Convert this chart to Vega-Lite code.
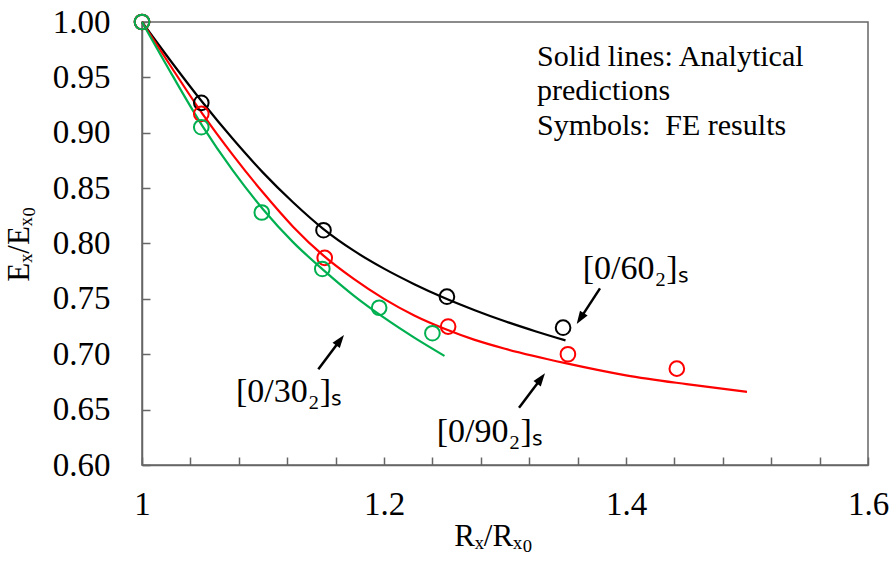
{
  "$schema": "https://vega.github.io/schema/vega-lite/v6.json",
  "width": 726,
  "height": 443,
  "autosize": "none",
  "padding": {"left": 142, "top": 22, "right": 25, "bottom": 107},
  "background": "white",
  "config": {
    "font": "Liberation Serif",
    "view": {"stroke": "#666666", "strokeWidth": 1.5},
    "axis": {"grid": false, "domainColor": "#666666", "domainWidth": 1.5, "tickColor": "#666666", "tickWidth": 1.5, "labelColor": "#000000", "titleColor": "#000000", "labelFont": "Liberation Serif", "titleFont": "Liberation Serif", "titleFontWeight": "normal"}
  },
  "datasets": {
    "curves": [
      {"series": "60", "x": 1.0, "y": 1.0},
      {"series": "60", "x": 1.025, "y": 0.963},
      {"series": "60", "x": 1.05, "y": 0.9275},
      {"series": "60", "x": 1.075, "y": 0.8945},
      {"series": "60", "x": 1.1, "y": 0.864},
      {"series": "60", "x": 1.125, "y": 0.837},
      {"series": "60", "x": 1.15, "y": 0.813},
      {"series": "60", "x": 1.175, "y": 0.7935},
      {"series": "60", "x": 1.2, "y": 0.7773},
      {"series": "60", "x": 1.225, "y": 0.7633},
      {"series": "60", "x": 1.25, "y": 0.7508},
      {"series": "60", "x": 1.275, "y": 0.7398},
      {"series": "60", "x": 1.3, "y": 0.7298},
      {"series": "60", "x": 1.325, "y": 0.7208},
      {"series": "60", "x": 1.35, "y": 0.7125},
      {"series": "90", "x": 1.0, "y": 1.0},
      {"series": "90", "x": 1.025, "y": 0.958},
      {"series": "90", "x": 1.05, "y": 0.917},
      {"series": "90", "x": 1.075, "y": 0.880},
      {"series": "90", "x": 1.1, "y": 0.846},
      {"series": "90", "x": 1.125, "y": 0.815},
      {"series": "90", "x": 1.15, "y": 0.789},
      {"series": "90", "x": 1.175, "y": 0.768},
      {"series": "90", "x": 1.2, "y": 0.750},
      {"series": "90", "x": 1.225, "y": 0.735},
      {"series": "90", "x": 1.25, "y": 0.723},
      {"series": "90", "x": 1.275, "y": 0.713},
      {"series": "90", "x": 1.3, "y": 0.705},
      {"series": "90", "x": 1.35, "y": 0.692},
      {"series": "90", "x": 1.4, "y": 0.681},
      {"series": "90", "x": 1.45, "y": 0.673},
      {"series": "90", "x": 1.5, "y": 0.666},
      {"series": "30", "x": 1.0, "y": 1.0},
      {"series": "30", "x": 1.025, "y": 0.952},
      {"series": "30", "x": 1.05, "y": 0.906},
      {"series": "30", "x": 1.075, "y": 0.866},
      {"series": "30", "x": 1.1, "y": 0.831},
      {"series": "30", "x": 1.125, "y": 0.801},
      {"series": "30", "x": 1.15, "y": 0.776},
      {"series": "30", "x": 1.175, "y": 0.753},
      {"series": "30", "x": 1.2, "y": 0.733},
      {"series": "30", "x": 1.225, "y": 0.715},
      {"series": "30", "x": 1.25, "y": 0.6985}
    ],
    "fe": [
      {"series": "60", "x": 1.0, "y": 1.0},
      {"series": "60", "x": 1.049, "y": 0.927},
      {"series": "60", "x": 1.150, "y": 0.812},
      {"series": "60", "x": 1.252, "y": 0.752},
      {"series": "60", "x": 1.348, "y": 0.724},
      {"series": "90", "x": 1.0, "y": 1.0},
      {"series": "90", "x": 1.049, "y": 0.917},
      {"series": "90", "x": 1.151, "y": 0.787},
      {"series": "90", "x": 1.253, "y": 0.725},
      {"series": "90", "x": 1.352, "y": 0.700},
      {"series": "90", "x": 1.442, "y": 0.687},
      {"series": "30", "x": 1.0, "y": 1.0},
      {"series": "30", "x": 1.049, "y": 0.905},
      {"series": "30", "x": 1.099, "y": 0.828},
      {"series": "30", "x": 1.149, "y": 0.777},
      {"series": "30", "x": 1.196, "y": 0.742},
      {"series": "30", "x": 1.240, "y": 0.719}
    ],
    "arrows": [
      {"label": "[0/60₂]ₛ", "x": 1.3785, "y": 0.7595, "hx": 1.3622, "hy": 0.7322, "lx": 1.3642, "ly": 0.7677},
      {"label": "[0/30₂]ₛ", "x": 1.1457, "y": 0.6864, "hx": 1.1637, "hy": 0.7127, "lx": 1.0777, "ly": 0.6569},
      {"label": "[0/90₂]ₛ", "x": 1.3116, "y": 0.6517, "hx": 1.3298, "hy": 0.6781, "lx": 1.2436, "ly": 0.621}
    ]
  },
  "layer": [
    {
      "data": {"name": "curves"},
      "mark": {"type": "line", "interpolate": "monotone", "strokeWidth": 2.2},
      "encoding": {
        "x": {"field": "x", "type": "quantitative", "scale": {"domain": [1, 1.6], "nice": false, "zero": false},
          "axis": {"title": "Rₓ/Rₓ₀", "values": [1, 1.04, 1.08, 1.12, 1.16, 1.2, 1.24, 1.28, 1.32, 1.36, 1.4, 1.44, 1.48, 1.52, 1.56, 1.6],
            "labelExpr": "abs(datum.value*5 - round(datum.value*5)) < 0.001 ? format(datum.value, '~g') : ''",
            "tickSize": -8, "labelPadding": 31, "labelFontSize": 33, "titleFontSize": 31, "titlePadding": 0, "titleX": 351, "labelFlush": false, "labelOverlap": false}},
        "y": {"field": "y", "type": "quantitative", "scale": {"domain": [0.6, 1.0], "nice": false, "zero": false},
          "axis": {"title": "Eₓ/Eₓ₀", "values": [0.6, 0.625, 0.65, 0.675, 0.7, 0.725, 0.75, 0.775, 0.8, 0.825, 0.85, 0.875, 0.9, 0.925, 0.95, 0.975, 1.0],
            "labelExpr": "abs(datum.value*20 - round(datum.value*20)) < 0.001 ? format(datum.value, '.2f') : ''",
            "tickSize": -8, "labelPadding": 40, "labelFontSize": 33, "titleFontSize": 31, "titlePadding": 17, "labelFlush": false, "labelOverlap": false}},
        "color": {"field": "series", "type": "nominal", "scale": {"domain": ["30", "60", "90"], "range": ["#00b050", "#000000", "#ff0000"]}, "legend": null},
        "detail": {"field": "series"}
      }
    },
    {
      "data": {"name": "fe"},
      "mark": {"type": "point", "shape": "circle", "filled": false, "size": 215, "strokeWidth": 2, "opacity": 1},
      "encoding": {
        "x": {"field": "x", "type": "quantitative"},
        "y": {"field": "y", "type": "quantitative"},
        "color": {"field": "series", "type": "nominal", "legend": null}
      }
    },
    {
      "data": {"name": "arrows"},
      "mark": {"type": "rule", "strokeWidth": 2.5, "color": "#000000"},
      "encoding": {
        "x": {"field": "x", "type": "quantitative"},
        "y": {"field": "y", "type": "quantitative"},
        "x2": {"field": "hx"},
        "y2": {"field": "hy"}
      }
    },
    {
      "data": {"name": "arrows"},
      "transform": [{"filter": "datum.label == '[0/60₂]ₛ'"}],
      "mark": {"type": "point", "shape": "M0,-1L0.7,1L-0.7,1Z", "filled": true, "size": 169, "angle": 213, "color": "#000000", "opacity": 1},
      "encoding": {
        "x": {"field": "hx", "type": "quantitative"},
        "y": {"field": "hy", "type": "quantitative"}
      }
    },
    {
      "data": {"name": "arrows"},
      "transform": [{"filter": "datum.label != '[0/60₂]ₛ'"}],
      "mark": {"type": "point", "shape": "M0,-1L0.7,1L-0.7,1Z", "filled": true, "size": 169, "angle": 37, "color": "#000000", "opacity": 1},
      "encoding": {
        "x": {"field": "hx", "type": "quantitative"},
        "y": {"field": "hy", "type": "quantitative"}
      }
    },
    {
      "data": {"name": "arrows"},
      "mark": {"type": "text", "align": "left", "baseline": "alphabetic", "fontSize": 34, "font": "Liberation Serif", "color": "#000000"},
      "encoding": {
        "x": {"field": "lx", "type": "quantitative"},
        "y": {"field": "ly", "type": "quantitative"},
        "text": {"field": "label"}
      }
    },
    {
      "data": {"values": [{"t": "note"}]},
      "mark": {"type": "text", "align": "left", "baseline": "alphabetic", "fontSize": 30, "lineHeight": 34.5, "font": "Liberation Serif", "color": "#000000"},
      "encoding": {
        "x": {"datum": 1.3264},
        "y": {"datum": 0.9606},
        "text": {"value": ["Solid lines: Analytical", "predictions", "Symbols:\u00a0 FE results"]}
      }
    }
  ]
}
